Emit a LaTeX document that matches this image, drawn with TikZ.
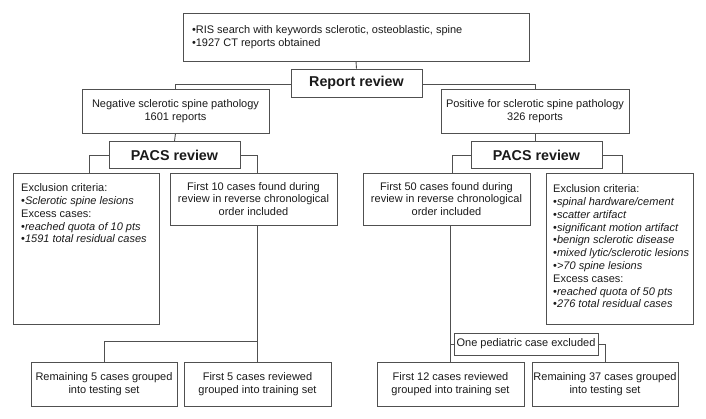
\documentclass[tikz,border=0pt]{standalone}
\usepackage{fontspec}
\setmainfont{Liberation Sans}
\usetikzlibrary{calc}
\definecolor{edge}{HTML}{505050}
\definecolor{ink}{HTML}{1A1A1A}
\tikzset{
  box/.style={draw=edge, line width=0.9pt, inner sep=0pt, text=ink, font=\fontsize{11}{12.6}\selectfont, align=center},
  head/.style={box, font=\fontsize{14.3}{17}\selectfont\bfseries},
  txt/.style={inner sep=0pt, anchor=north west, text=ink, align=left, font=\fontsize{11}{12.8}\selectfont},
  link/.style={draw=edge, line width=0.9pt},
}
\begin{document}
\begin{tikzpicture}[x=1pt,y=-1pt]
\useasboundingbox (0,0) rectangle (706,419);
% boxes
\node[box, minimum width=346pt, minimum height=48pt, align=left] (top) at (356,37)
  {\makebox[328pt][l]{•RIS search with keywords sclerotic, osteoblastic, spine}\\•1927 CT reports obtained};
\node[head, minimum width=131pt, minimum height=28pt] (report) at (356.5,83) {Report review};
\node[box, minimum width=187pt, minimum height=44pt] (neg) at (175.5,111) {Negative sclerotic spine pathology\\1601 reports};
\node[box, minimum width=188pt, minimum height=44pt] (pos) at (535,111) {Positive for sclerotic spine pathology\\326 reports};
\node[head, minimum width=131pt, minimum height=27pt] (pacsL) at (174.5,155) {PACS review};
\node[head, minimum width=131pt, minimum height=27pt] (pacsR) at (536.5,155) {PACS review};
\node[box, minimum width=146pt, minimum height=151pt] (exclL) at (86,248.5) {};
\node[txt] (exclLt) at (21,183.5) {Exclusion criteria:\\•\textit{Sclerotic spine lesions}\\Excess cases:\\•\textit{reached quota of 10 pts}\\•\textit{1591 total residual cases}};
\node[box, minimum width=167pt, minimum height=52pt] (first10) at (253.5,199) {First 10 cases found during\\review in reverse chronological\\order included};
\node[box, minimum width=167pt, minimum height=52pt] (first50) at (446.5,199) {First 50 cases found during\\review in reverse chronological\\order included};
\node[box, minimum width=147pt, minimum height=151pt] (exclR) at (619.5,248.5) {};
\node[txt] (exclRt) at (553,184.5) {Exclusion criteria:\\•\textit{spinal hardware/cement}\\•\textit{scatter artifact}\\•\textit{significant motion artifact}\\•\textit{benign sclerotic disease}\\•\textit{mixed lytic/sclerotic lesions}\\•\textit{>70 spine lesions}\\Excess cases:\\•\textit{reached quota of 50 pts}\\•\textit{276 total residual cases}};
\node[box, minimum width=146pt, minimum height=44pt] (rem5) at (104,384) {Remaining 5 cases grouped\\into testing set};
\node[box, minimum width=147pt, minimum height=44pt] (first5) at (257.5,384) {First 5 cases reviewed\\grouped into training set};
\node[box, minimum width=147pt, minimum height=44pt] (first12) at (450.5,384) {First 12 cases reviewed\\grouped into training set};
\node[box, minimum width=146pt, minimum height=44pt] (rem37) at (605,384) {Remaining 37 cases grouped\\into testing set};
\node[box, minimum width=144pt, minimum height=22pt] (ped) at (526,344) {One pediatric case excluded};
% connectors
\draw[link] (top.south) -- (report.north);
\draw[link] ([yshift=-1.5pt]report.west) -| (neg.north);
\draw[link] ([yshift=-1.5pt]report.east) -| (pos.north);
\draw[link] (neg.south) -- (pacsL.north);
\draw[link] (pos.south) -- (pos.south |- pacsR.north);
\draw[link] (pacsL.west) -| ([xshift=3pt]exclL.north);
\draw[link] (pacsL.east) -| ([xshift=3.5pt]first10.north);
\draw[link] (pacsR.west) -| ([xshift=5.5pt]first50.north);
\draw[link] (pacsR.east) -| ([xshift=2.5pt]exclR.north);
\coordinate (jL) at ($(first5.north)+(0,-20)$);
\draw[link] (first5.north |- first10.south) -- (first5.north);
\draw[link] (jL) -| (rem5.north);
\draw[link] (first12.north |- first50.south) -- (first12.north);
\draw[link] (ped.west) -- (ped.west -| first12.north);
\draw[link] (ped.east) -| (rem37.north);
\end{tikzpicture}
\end{document}
